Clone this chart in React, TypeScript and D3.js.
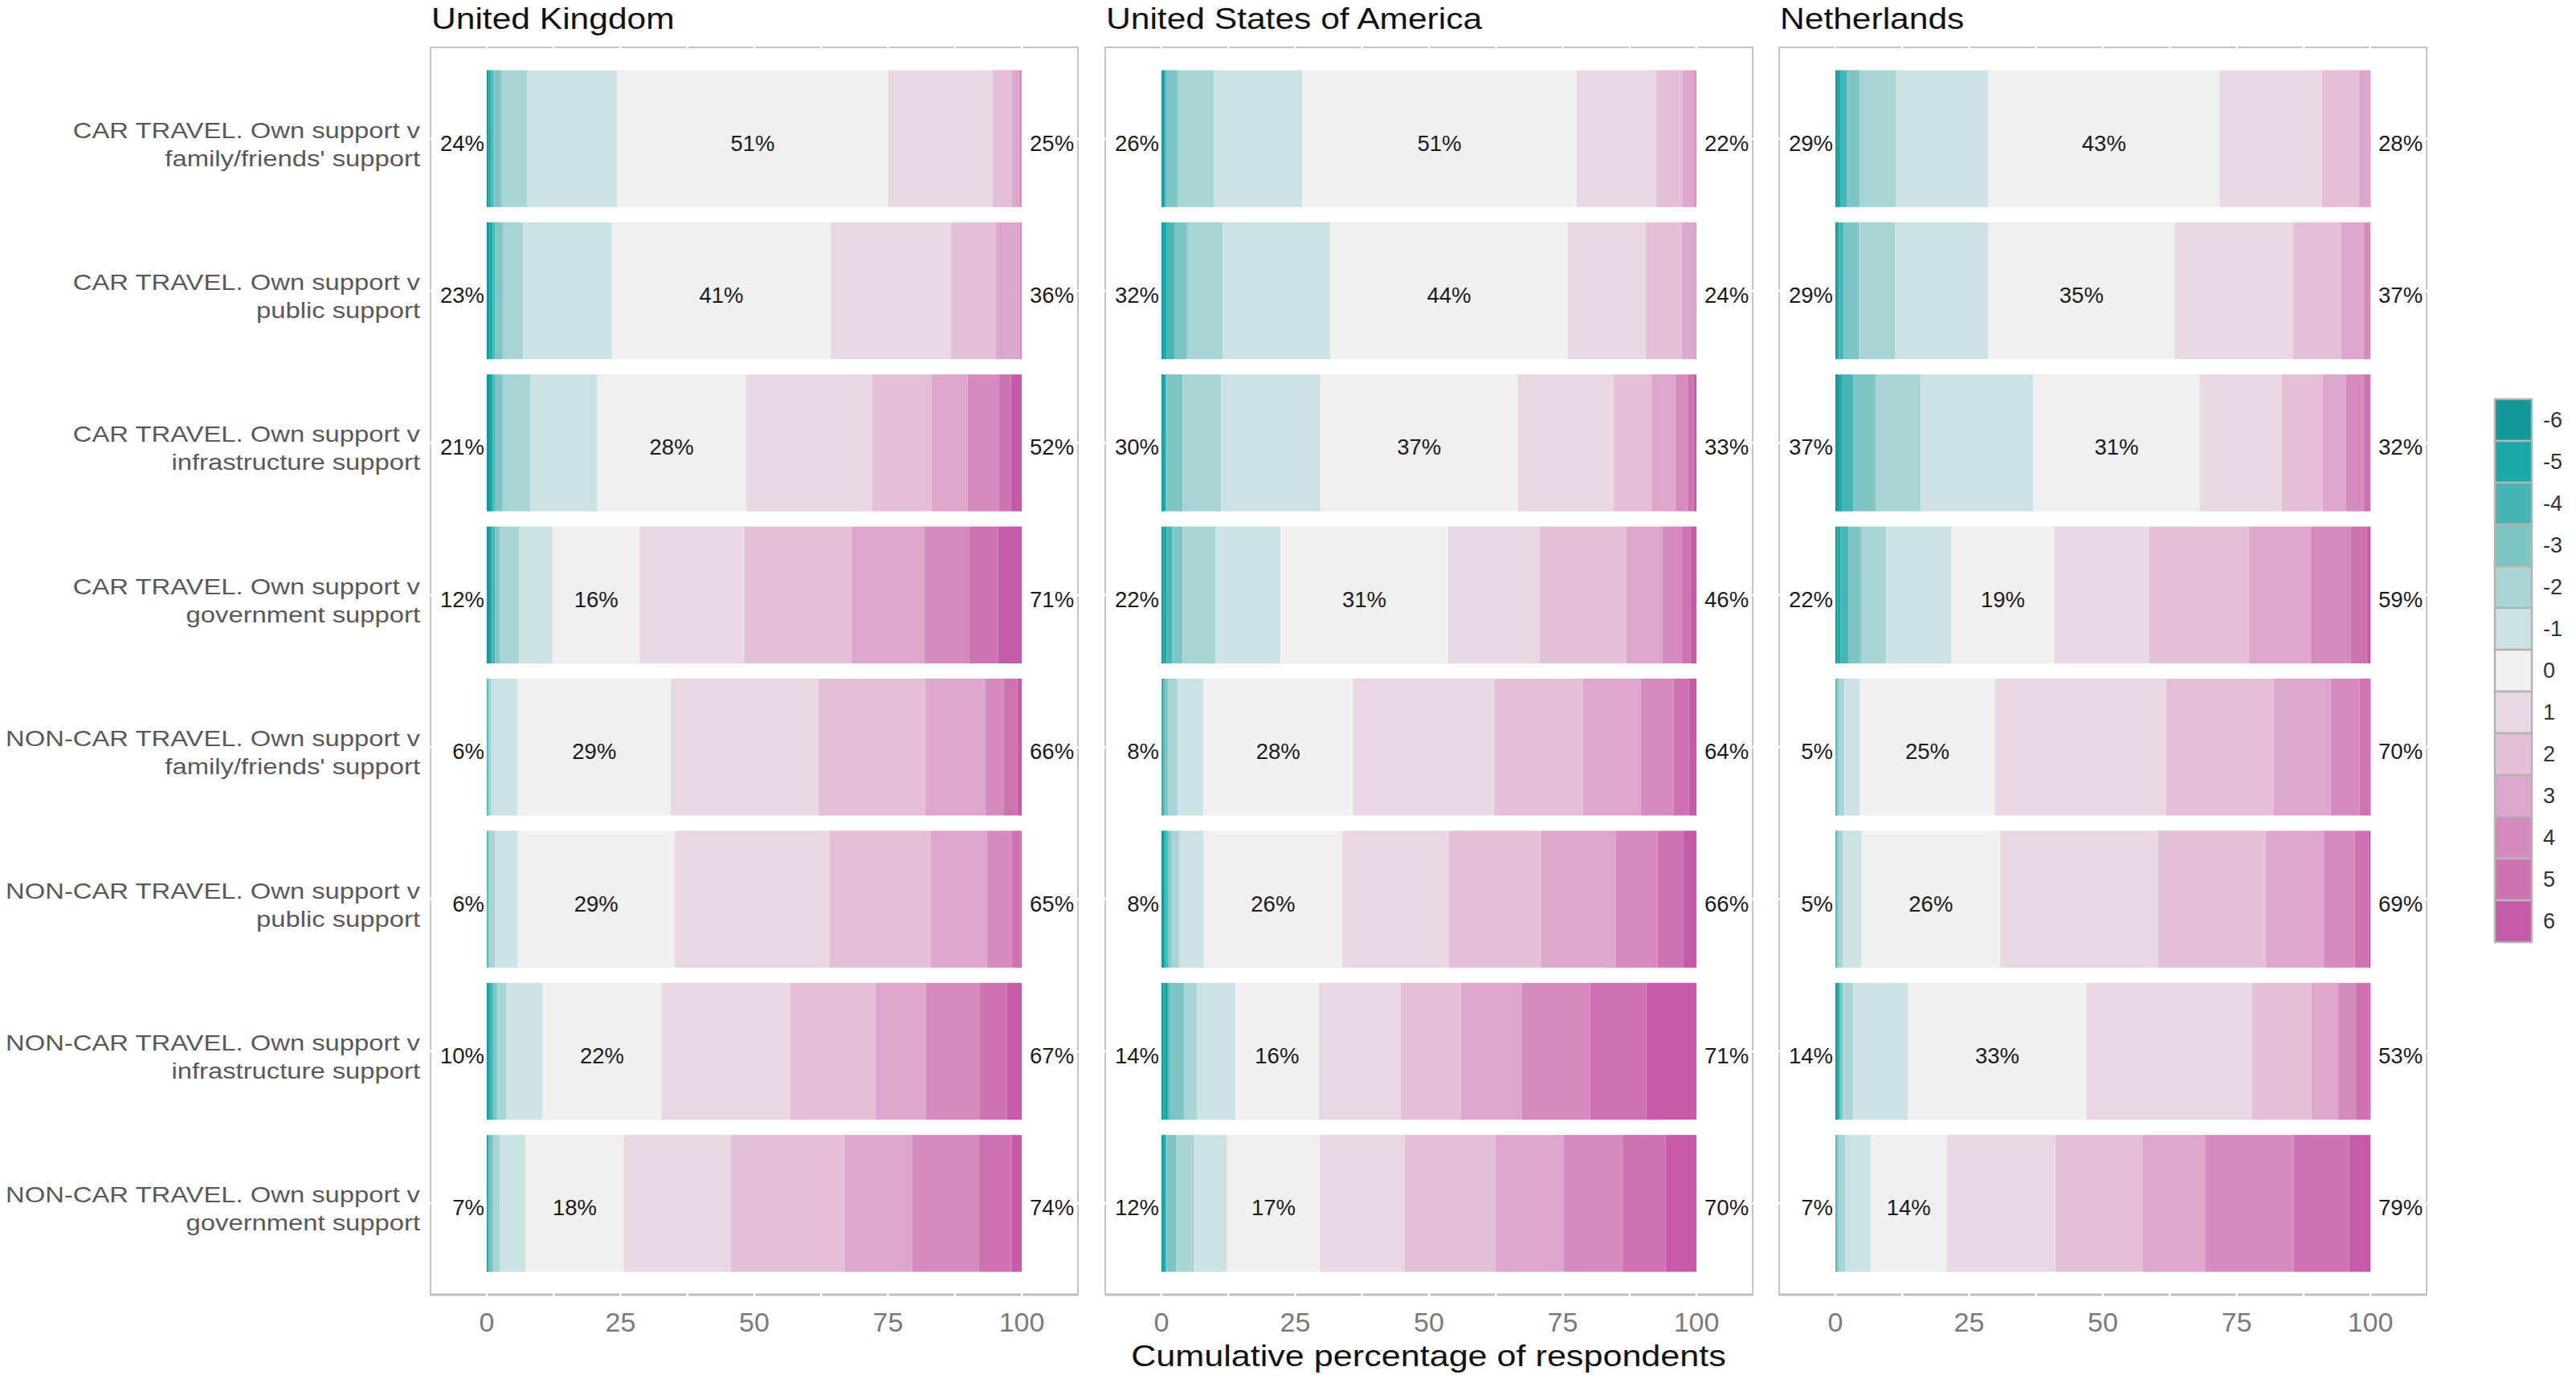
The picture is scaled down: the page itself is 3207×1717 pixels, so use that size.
import * as d3 from 'd3';

const COUNTRIES = ['United Kingdom', 'United States of America', 'Netherlands'];

const ITEM_LINES: string[][] = [
  ['CAR TRAVEL. Own support v', "family/friends' support"],
  ['CAR TRAVEL. Own support v', 'public support'],
  ['CAR TRAVEL. Own support v', 'infrastructure support'],
  ['CAR TRAVEL. Own support v', 'government support'],
  ['NON-CAR TRAVEL. Own support v', "family/friends' support"],
  ['NON-CAR TRAVEL. Own support v', 'public support'],
  ['NON-CAR TRAVEL. Own support v', 'infrastructure support'],
  ['NON-CAR TRAVEL. Own support v', 'government support'],
];

const LEVELS = [-6, -5, -4, -3, -2, -1, 0, 1, 2, 3, 4, 5, 6];
const LEVEL_COLOURS = [
  '#11999a', '#1aa8a9', '#47b4b5', '#7ec5c6', '#a8d4d5', '#cde2e4', '#f0f0f0',
  '#e9d8e3', '#e4bfd8', '#dea6cc', '#d68bbe', '#ce72b2', '#c55aa8',
];

const X_TICKS = [0, 25, 50, 75, 100];
const X_MINOR = [12.5, 37.5, 62.5, 87.5];

// shares (%) per level -6..6, one row per item
const UK_SHARES = [
  [0.4, 0.4, 0.5, 1.4, 4.9, 16.8, 50.6, 19.6, 3.6, 1.3, 0.4, 0.1, 0.0],
  [0.5, 0.6, 0.5, 1.4, 3.8, 16.6, 40.9, 22.5, 8.4, 4.4, 0.4, 0.0, 0.0],
  [0.6, 0.5, 0.4, 1.5, 5.1, 12.6, 27.7, 23.6, 11.1, 6.8, 5.9, 2.2, 2.0],
  [0.6, 0.4, 0.6, 0.8, 3.7, 6.2, 16.3, 19.6, 20.0, 13.6, 8.4, 5.4, 4.4],
  [0.1, 0.1, 0.1, 0.2, 0.4, 4.9, 28.6, 27.6, 20.0, 11.2, 3.5, 2.5, 0.8],
  [0.1, 0.1, 0.1, 0.2, 1.0, 4.3, 29.3, 29.0, 18.9, 10.5, 4.7, 1.6, 0.2],
  [0.3, 0.3, 0.6, 0.8, 1.7, 6.7, 22.3, 24.0, 15.9, 9.5, 10.1, 5.0, 2.8],
  [0.2, 0.2, 0.3, 0.6, 1.2, 4.8, 18.3, 20.0, 21.3, 12.6, 12.5, 6.1, 1.9],
];

const US_SHARES = [
  [0.3, 0.4, 0.2, 2.1, 6.8, 16.5, 51.3, 14.9, 4.9, 2.3, 0.3, 0.0, 0.0],
  [0.3, 0.6, 1.5, 2.4, 6.7, 20.1, 44.3, 14.6, 6.8, 2.5, 0.2, 0.0, 0.0],
  [0.3, 0.5, 0.2, 3.0, 7.2, 18.5, 36.9, 17.9, 7.1, 4.5, 2.2, 1.2, 0.5],
  [0.4, 0.6, 1.0, 2.0, 6.1, 12.1, 31.4, 17.1, 16.2, 6.7, 3.7, 1.6, 1.1],
  [0.1, 0.3, 0.3, 0.6, 1.7, 4.8, 28.0, 26.4, 16.6, 10.8, 6.1, 2.9, 1.4],
  [0.5, 0.3, 0.4, 0.6, 1.5, 4.6, 25.9, 19.9, 17.3, 13.9, 7.8, 4.9, 2.4],
  [0.4, 0.9, 0.2, 2.7, 2.4, 7.2, 15.6, 15.3, 11.2, 11.4, 12.8, 10.5, 9.4],
  [0.3, 0.5, 0.2, 1.8, 3.3, 6.2, 17.3, 15.9, 16.9, 12.8, 11.0, 8.0, 5.8],
];

const NL_SHARES = [
  [0.3, 0.6, 1.2, 2.4, 6.8, 17.3, 43.2, 19.1, 6.9, 2.0, 0.2, 0.0, 0.0],
  [0.3, 0.4, 0.9, 2.8, 6.8, 17.4, 34.8, 22.2, 9.0, 4.2, 1.2, 0.0, 0.0],
  [0.6, 0.6, 2.2, 4.1, 8.4, 21.1, 31.1, 15.3, 7.7, 4.3, 3.4, 1.2, 0.0],
  [0.4, 0.6, 1.4, 2.4, 4.7, 12.2, 19.2, 17.7, 18.7, 11.6, 7.4, 3.0, 0.7],
  [0.1, 0.1, 0.2, 0.3, 1.0, 2.9, 25.2, 32.0, 20.1, 10.7, 5.4, 1.8, 0.2],
  [0.1, 0.1, 0.2, 0.2, 0.8, 3.5, 25.9, 29.5, 20.1, 10.9, 5.8, 2.5, 0.4],
  [0.3, 0.3, 0.3, 0.5, 1.9, 10.3, 33.3, 31.0, 11.1, 5.0, 3.3, 2.5, 0.2],
  [0.1, 0.1, 0.1, 0.3, 1.3, 4.7, 14.2, 20.3, 16.4, 11.6, 16.6, 10.3, 4.0],
];

const ALL_SHARES = [UK_SHARES, US_SHARES, NL_SHARES];

const FONT = '"Liberation Sans", Arial, sans-serif';

export default function App() {
  const W = 3207;
  const H = 1717;
  const panelLefts = [536, 1376, 2215];
  const panelW = 806;
  const top = 59;
  const bottom = 1612;

  const y = d3.scaleBand<number>()
    .domain(d3.range(ITEM_LINES.length))
    .range([top, bottom])
    .paddingInner(0.1)
    .paddingOuter(0.15);

  const pct = (v: number) => `${Math.round(v)}%`;
  const colour = d3.scaleOrdinal<number, string>().domain(LEVELS).range(LEVEL_COLOURS);

  const legendTop = 497;
  const keyH = 52;
  // the source text is a bit wider than plain Arial
  const stretch = 1.15;

  return (
    <svg width={W} height={H} style={{ position: 'absolute', left: 0, top: 0, background: '#fff' }}
      fontFamily={FONT}>
      {/* row labels */}
      {ITEM_LINES.map((lines, i) => {
        const cy = y(i)! + y.bandwidth() / 2;
        return (
          <text key={'lab' + i} transform={`translate(523,0) scale(${stretch},1)`} textAnchor="end" fontSize={28.5} fill="#595959">
            <tspan x={0} y={cy - 1}>{lines[0]}</tspan>
            <tspan x={0} y={cy + 34}>{lines[1]}</tspan>
          </text>
        );
      })}

      {COUNTRIES.map((country, ci) => {
        const left = panelLefts[ci];
        const x = d3.scaleLinear().domain([-10.5, 110.5]).range([left, left + panelW]);
        const shares = ALL_SHARES[ci];
        return (
          <g key={country}>
            <text transform={`translate(${left + 1},36) scale(${stretch},1)`} fontSize={37} fill="#111">{country}</text>
            {/* panel background with border */}
            <rect x={left} y={top} width={panelW} height={bottom - top} fill="#fff" stroke="#c4c4c4" strokeWidth={2} />
            <line x1={left} x2={left + panelW} y1={bottom} y2={bottom} stroke="#bdbdbd" strokeWidth={3} />
            {/* white grid lines cutting through the border */}
            {[...X_TICKS, ...X_MINOR].map(t => (
              <line key={'g' + t} x1={x(t)} x2={x(t)} y1={top - 2} y2={bottom + 2} stroke="#fff" strokeWidth={2.5} />
            ))}
            {ITEM_LINES.map((_, i) => {
              const cy = y(i)! + y.bandwidth() / 2;
              return <line key={'h' + i} x1={left - 2} x2={left + panelW + 2} y1={cy} y2={cy} stroke="#fff" strokeWidth={2.5} />;
            })}
            {/* stacked bars */}
            {shares.map((row, i) => {
              const ends = Array.from(d3.cumsum(row));
              const neg = d3.sum(row.slice(0, 6));
              const neu = row[6];
              const pos = d3.sum(row.slice(7));
              const by = y(i)!;
              const cy = by + y.bandwidth() / 2;
              return (
                <g key={'r' + i}>
                  {row.map((v, k) => {
                    const x0 = k === 0 ? 0 : ends[k - 1];
                    return (
                      <rect key={k} x={x(x0)} y={by} width={Math.max(0, x(x0 + v) - x(x0))}
                        height={y.bandwidth()} fill={colour(LEVELS[k])} />
                    );
                  })}
                  <text x={x(0) - 3} y={cy + 15} textAnchor="end" fontSize={27.5} fill="#1a1a1a">{pct(neg)}</text>
                  <text x={x(neg + neu / 2)} y={cy + 15} textAnchor="middle" fontSize={27.5} fill="#1a1a1a">{pct(neu)}</text>
                  <text x={x(100) + 10} y={cy + 15} textAnchor="start" fontSize={27.5} fill="#1a1a1a">{pct(pos)}</text>
                </g>
              );
            })}
            {/* x tick labels */}
            {X_TICKS.map(t => (
              <text key={'t' + t} x={x(t)} y={1658} textAnchor="middle" fontSize={34} fill="#7a7a7a">{t}</text>
            ))}
          </g>
        );
      })}

      <text transform={`translate(${(panelLefts[0] + panelLefts[2] + panelW) / 2},1701) scale(${stretch},1)`}
        textAnchor="middle" fontSize={37.5} fill="#111">
        Cumulative percentage of respondents
      </text>

      {/* legend */}
      {LEVELS.map((lv, k) => (
        <g key={'lg' + lv}>
          <rect x={3106} y={legendTop + k * keyH} width={46} height={keyH} fill={colour(lv)} stroke="#b3b3b3" strokeWidth={2.5} />
          <text x={3166} y={legendTop + k * keyH + keyH / 2 + 9} fontSize={27} fill="#333">{lv}</text>
        </g>
      ))}
    </svg>
  );
}
